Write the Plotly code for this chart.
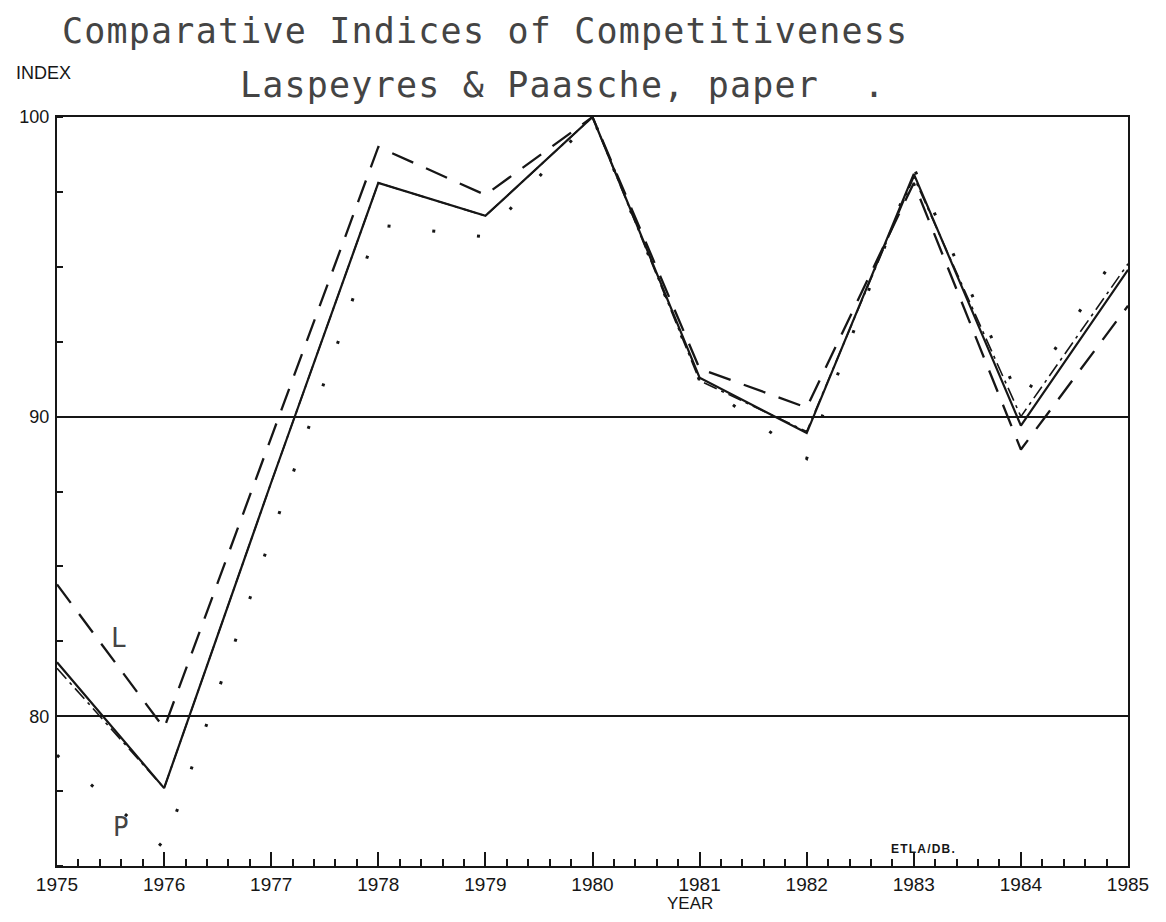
import plotly.graph_objects as go

# Annual index values, 1975-1985 (1980 = 100)
years = [1975, 1976, 1977, 1978, 1979, 1980, 1981, 1982, 1983, 1984, 1985]
index_solid = [81.8, 77.6, 87.8, 97.8, 96.7, 100.0, 91.3, 89.45, 98.1, 89.7, 94.9]
index_dashdot = [81.6, 77.6, 87.8, 97.8, 96.7, 100.0, 91.2, 89.5, 98.0, 90.0, 95.1]
laspeyres = [84.4, 79.6, 89.3, 99.0, 97.4, 100.0, 91.6, 90.3, 97.8, 88.9, 93.7]
paasche = [78.7, 75.6, 86.0, 96.4, 96.0, 100.0, 91.2, 88.6, 98.3, 90.5, 96.0]

y_major = [80, 90, 100]
x_ticks = years

INK = "#161616"
PEN = "#444444"
MONO = "DejaVu Sans Mono, monospace"
SANS = "Liberation Sans, Arial, sans-serif"
NARROW = "Liberation Sans Narrow, Liberation Sans, Arial, sans-serif"

W, H = 1166, 922
L, R, T, B = 57, 38, 117, 56
PW, PH = W - L - R, H - T - B


def px(x):
    return (x - L) / PW


def py(y):
    return (H - B - y) / PH


def spaced(s, gap):
    return '<span style="letter-spacing:%spx">%s</span>' % (gap, s)


fig = go.Figure()

fig.add_trace(go.Scatter(x=years, y=index_dashdot, mode="lines",
                         line=dict(color=INK, width=1.6, dash="14px,5px,3px,5px")))
fig.add_trace(go.Scatter(x=years, y=laspeyres, mode="lines",
                         line=dict(color=INK, width=2.3, dash="23px,14px")))
fig.add_trace(go.Scatter(x=years, y=paasche, mode="lines",
                         line=dict(color=INK, width=3, dash="3px,42px")))
fig.add_trace(go.Scatter(x=years, y=index_solid, mode="lines",
                         line=dict(color=INK, width=2.2)))

annotations = [
    dict(text=spaced("Comparative Indices of Competitiveness", 1.2), x=px(60), y=py(31),
         xanchor="left", yanchor="middle",
         font=dict(family=MONO, size=35, color=PEN)),
    dict(text=spaced("Laspeyres & Paasche, paper  .", 1.2), x=px(238), y=py(85),
         xanchor="left", yanchor="middle",
         font=dict(family=MONO, size=35, color=PEN)),
    dict(text="INDEX", x=px(14), y=py(73), xanchor="left", yanchor="middle",
         font=dict(family=NARROW, size=18, color=INK)),
    dict(text="YEAR", x=px(690), y=py(903), xanchor="center", yanchor="middle",
         font=dict(family=NARROW, size=17, color=INK)),
    dict(text="<b>" + spaced("ETLA/DB.", 1.2) + "</b>", x=px(923), y=py(849),
         xanchor="center", yanchor="middle",
         font=dict(family=SANS, size=12, color=INK)),
    # series labels placed in data coordinates
    dict(text="L", x=1975.58, y=82.6, xref="x", yref="y", xanchor="center", yanchor="middle",
         font=dict(family=MONO, size=26, color=PEN)),
    dict(text="P", x=1975.6, y=76.3, xref="x", yref="y", xanchor="center", yanchor="middle",
         font=dict(family=MONO, size=26, color=PEN)),
]
for a in annotations:
    a.setdefault("xref", "paper")
    a.setdefault("yref", "paper")
    a["showarrow"] = False

fig.update_layout(
    width=W, height=H,
    margin=dict(l=L, r=R, t=T, b=B, pad=0),
    paper_bgcolor="white", plot_bgcolor="white",
    showlegend=False,
    annotations=annotations,
    xaxis=dict(
        range=[1975, 1985], tickvals=x_ticks, ticktext=[str(v) for v in x_ticks],
        ticks="inside", ticklen=14, tickwidth=1.5, tickcolor=INK,
        minor=dict(dtick=0.2, tick0=1975, ticks="inside", ticklen=7, tickwidth=1.5,
                   tickcolor=INK, showgrid=False),
        showline=True, linecolor=INK, linewidth=2, mirror=True,
        showgrid=False, zeroline=False,
        tickfont=dict(family=SANS, size=19, color=INK),
    ),
    yaxis=dict(
        range=[75, 100], tickvals=y_major, ticktext=[str(v) for v in y_major],
        ticks="", showgrid=True, gridcolor=INK, gridwidth=1.6,
        minor=dict(dtick=2.5, tick0=75, ticks="inside", ticklen=6, tickwidth=1.5,
                   tickcolor=INK, showgrid=False),
        showline=True, linecolor=INK, linewidth=2, mirror=True,
        zeroline=False,
        ticklabelstandoff=2,
        tickfont=dict(family=SANS, size=18, color=INK),
    ),
)

fig.write_html("out.html")
